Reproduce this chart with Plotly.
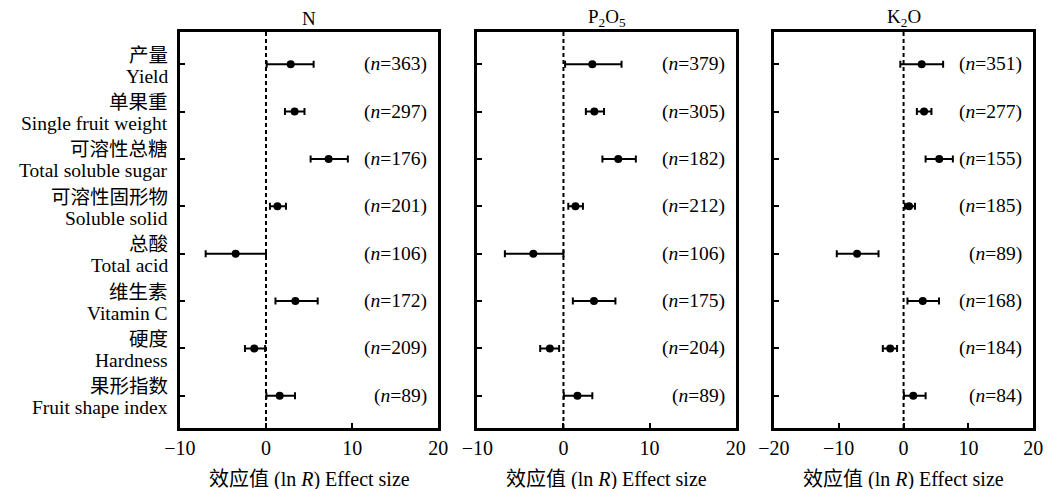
import plotly.graph_objects as go

categories_zh = ["产量", "单果重", "可溶性总糖", "可溶性固形物", "总酸", "维生素", "硬度", "果形指数"]
categories_en = ["Yield", "Single fruit weight", "Total soluble sugar", "Soluble solid",
                 "Total acid", "Vitamin C", "Hardness", "Fruit shape index"]
rows = [1, 2, 3, 4, 5, 6, 7, 8]

panel_titles = ["N", "P<sub>2</sub>O<sub>5</sub>", "K<sub>2</sub>O"]

# N
mean_N = [2.87, 3.32, 7.27, 1.33, -3.52, 3.41, -1.36, 1.59]
lo_N = [0.08, 2.20, 5.18, 0.46, -7.00, 1.10, -2.44, 0.04]
hi_N = [5.53, 4.47, 9.50, 2.32, 0.00, 6.00, -0.10, 3.37]
n_N = [363, 297, 176, 201, 106, 172, 209, 89]

# P2O5
mean_P = [3.35, 3.58, 6.36, 1.39, -3.50, 3.54, -1.58, 1.62]
lo_P = [0.19, 2.60, 4.52, 0.56, -6.80, 1.09, -2.70, 0.04]
hi_P = [6.74, 4.71, 8.40, 2.26, 0.00, 6.03, -0.50, 3.35]
n_P = [379, 305, 182, 212, 106, 175, 204, 89]

# K2O
mean_K = [2.80, 3.16, 5.50, 0.85, -7.17, 2.96, -2.06, 1.50]
lo_K = [-0.50, 2.05, 3.40, 0.20, -10.30, 0.60, -3.20, 0.05]
hi_K = [6.10, 4.30, 7.60, 1.76, -3.86, 5.46, -1.00, 3.40]
n_K = [351, 277, 155, 185, 89, 168, 184, 84]

x_ranges = [[-10, 20], [-10, 20], [-20, 20]]
x_ticks = [[-10, 0, 10, 20], [-10, 0, 10, 20], [-20, -10, 0, 10, 20]]
x_title = "效应值 (ln <i>R</i>) Effect size"

FONT = "'Liberation Serif', 'Noto Sans CJK SC', serif"

domains = [[0.1592, 0.4104], [0.4483, 0.6995], [0.7365, 0.9886]]
y_dom = [1 - 428 / 489, 1 - 32 / 489]

fig = go.Figure()
series = [(mean_N, lo_N, hi_N, n_N), (mean_P, lo_P, hi_P, n_P), (mean_K, lo_K, hi_K, n_K)]

for i, (m, lo, hi, nn) in enumerate(series):
    xa = "x" if i == 0 else f"x{i+1}"
    ya = "y" if i == 0 else f"y{i+1}"
    fig.add_trace(go.Scatter(
        x=m, y=rows, mode="markers", xaxis=xa, yaxis=ya,
        marker=dict(color="black", size=8),
        error_x=dict(type="data", symmetric=False,
                     array=[h - v for h, v in zip(hi, m)],
                     arrayminus=[v - l for v, l in zip(m, lo)],
                     color="black", thickness=2, width=3.5),
        showlegend=False, hoverinfo="skip"))
    # zero line
    fig.add_shape(type="line", xref=xa, yref=f"{ya} domain", x0=0, x1=0, y0=0, y1=1,
                  line=dict(color="black", width=2, dash="4px,3px"), layer="below")
    # n annotations
    for r, n in zip(rows, nn):
        fig.add_annotation(xref=f"{xa} domain", yref=ya, x=1, y=r, xshift=-9,
                           xanchor="right", yanchor="middle", showarrow=False,
                           text=f"(<i>n</i>={n})",
                           font=dict(family=FONT, size=19.5, color="black"))
    # title
    fig.add_annotation(xref=f"{xa} domain", yref="paper", x=0.5, y=1 - 18 / 489,
                       xanchor="center", yanchor="middle", showarrow=False,
                       text=panel_titles[i], font=dict(family=FONT, size=19, color="black"))
    # x axis title
    fig.add_annotation(xref=f"{xa} domain", yref="paper", x=0.5, y=1 - 479 / 489,
                       xanchor="center", yanchor="middle", showarrow=False,
                       text=x_title, font=dict(family=FONT, size=20, color="black"))

# category labels (Chinese above, English below each tick)
for r, zh, en in zip(rows, categories_zh, categories_en):
    fig.add_annotation(xref="x domain", yref="y", x=0, y=r, xshift=-10, yshift=9,
                       xanchor="right", yanchor="middle", showarrow=False,
                       text=zh, font=dict(family=FONT, size=19.5, color="black"))
    fig.add_annotation(xref="x domain", yref="y", x=0, y=r, xshift=-10, yshift=-12,
                       xanchor="right", yanchor="middle", showarrow=False,
                       text=en, font=dict(family=FONT, size=19.5, color="black"))

axis_common = dict(showline=True, linecolor="black", linewidth=3, mirror=True,
                   ticks="inside", ticklen=5, tickwidth=2, tickcolor="black",
                   showgrid=False, zeroline=False,
                   tickfont=dict(family=FONT, size=20, color="black"))

for i in range(3):
    kx = "xaxis" if i == 0 else f"xaxis{i+1}"
    ky = "yaxis" if i == 0 else f"yaxis{i+1}"
    ya = "y" if i == 0 else f"y{i+1}"
    xa = "x" if i == 0 else f"x{i+1}"
    fig.layout[kx] = dict(axis_common, domain=domains[i], range=x_ranges[i],
                          tickvals=x_ticks[i], anchor=ya)
    fig.layout[ky] = dict(axis_common, domain=y_dom, range=[8.68, 0.32], anchor=xa,
                          tickvals=rows, showticklabels=False)

fig.update_layout(width=1055, height=489, margin=dict(l=0, r=0, t=0, b=0),
                  plot_bgcolor="white", paper_bgcolor="white",
                  font=dict(family=FONT, color="black"))

fig.write_html("out.html")
